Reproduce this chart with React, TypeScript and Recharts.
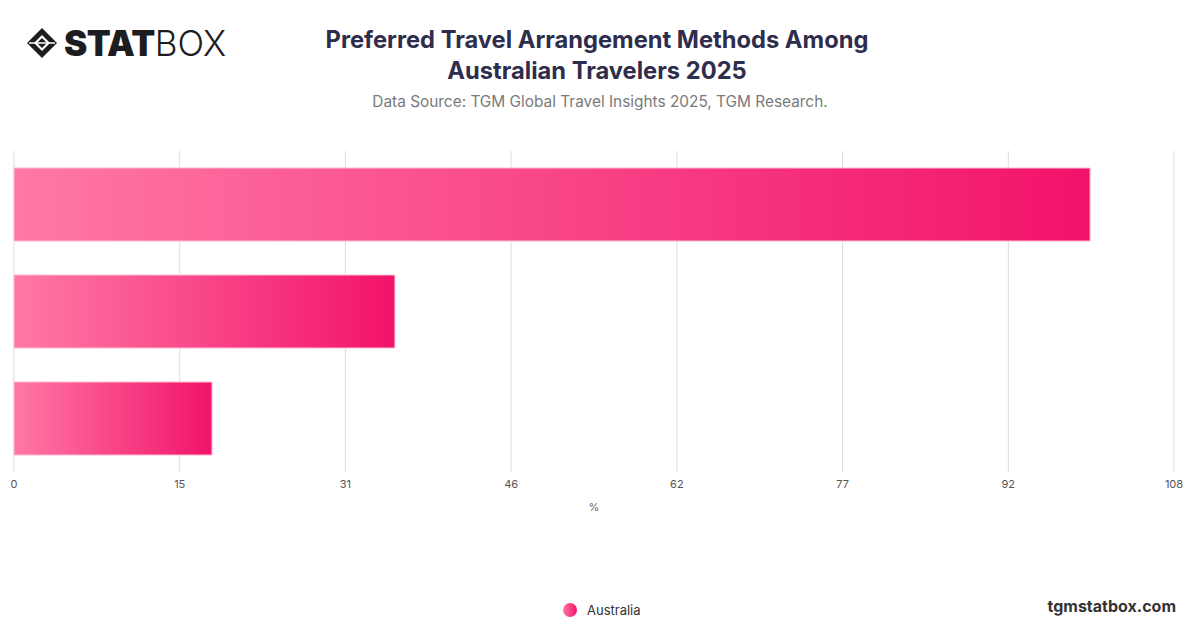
import { BarChart, Bar, XAxis, YAxis, CartesianGrid } from 'recharts';

const categories = ['Online travel platforms', 'Travel agents', 'Other methods'];
const australiaValues = [100, 35.4, 18.4];
const xTicks = [0, 15.4, 30.8, 46.2, 61.6, 77, 92.4, 107.8];

const data = categories.map((name, i) => ({ name, Australia: australiaValues[i] }));

const FONT = 'Inter, "Noto Sans", sans-serif';

function Logo() {
  return (
    <div style={{ position: 'absolute', left: 26, top: 22, display: 'flex', alignItems: 'center' }}>
      <svg width="32" height="32" viewBox="0 0 32 32">
        <path d="M16 1 L31 16 L16 31 L1 16 Z" fill="#1d1d1f" />
        <path d="M16 8 L24 16 L16 24 L8 16 Z" fill="#fff" />
        <path d="M16 11 L21 16 L16 21 L11 16 Z" fill="#1d1d1f" />
        <path d="M3 16 L29 16" stroke="#fff" strokeWidth="1.5" />
      </svg>
      <span style={{ fontFamily: FONT, fontWeight: 900, fontSize: 35, color: '#1d1d1f', marginLeft: 6, letterSpacing: -0.5 }}>
        STAT
      </span>
      <span style={{ fontFamily: FONT, fontWeight: 300, fontSize: 35, color: '#1d1d1f' }}>BOX</span>
    </div>
  );
}

export default function App() {
  return (
    <div style={{ position: 'absolute', left: 0, top: 0, width: 1200, height: 628, background: '#fff', overflow: 'hidden' }}>
      <Logo />
      <div
        style={{
          position: 'absolute',
          left: 297,
          width: 600,
          top: 24,
          textAlign: 'center',
          fontFamily: FONT,
          fontWeight: 700,
          fontSize: 23.7,
          lineHeight: '31px',
          color: '#2f2d4c',
        }}
      >
        Preferred Travel Arrangement Methods Among
        <br />
        Australian Travelers 2025
      </div>
      <div
        style={{
          position: 'absolute',
          left: 300,
          width: 600,
          top: 92,
          textAlign: 'center',
          fontFamily: FONT,
          fontSize: 15.4,
          color: '#7a7a7a',
        }}
      >
        Data Source: TGM Global Travel Insights 2025, TGM Research.
      </div>

      <div style={{ position: 'absolute', left: 0, top: 140 }}>
        <BarChart
          width={1200}
          height={400}
          data={data}
          layout="vertical"
          margin={{ top: 11, right: 26, bottom: 24, left: 14 }}
          barCategoryGap={17}
          style={{ fontFamily: FONT }}
        >
          <defs>
            <linearGradient id="barPink" x1="0" y1="0" x2="1" y2="0">
              <stop offset="0%" stopColor="#ff78a6" />
              <stop offset="100%" stopColor="#f2136a" />
            </linearGradient>
          </defs>
          <CartesianGrid horizontal={false} stroke="#dcdcdc" />
          <XAxis
            type="number"
            domain={[0, 107.8]}
            ticks={xTicks}
            tickFormatter={(v) => String(Math.round(v))}
            axisLine={false}
            tickLine={false}
            tick={{ fontSize: 11, fill: '#555' }}
            height={44}
            label={{ value: '%', position: 'insideBottom', offset: 5, fontSize: 11, fill: '#666' }}
          />
          <YAxis type="category" dataKey="name" width={0} tick={false} tickLine={false} axisLine={{ stroke: '#333' }} />
          <Bar
            dataKey="Australia"
            fill="url(#barPink)"
            stroke="#ffbcd2"
            strokeWidth={1}
            barSize={73}
            isAnimationActive={false}
          />
        </BarChart>
      </div>

      <div style={{ position: 'absolute', left: 562, top: 602, display: 'flex', alignItems: 'center', fontFamily: FONT, fontSize: 13, color: '#333' }}>
        <svg width="16" height="16" viewBox="0 0 16 16">
          <defs>
            <linearGradient id="dotPink" x1="0" y1="0" x2="1" y2="0">
              <stop offset="0%" stopColor="#ff78a6" />
              <stop offset="100%" stopColor="#f2136a" />
            </linearGradient>
          </defs>
          <circle cx="8" cy="8" r="7" fill="url(#dotPink)" />
        </svg>
        <span style={{ marginLeft: 9 }}>Australia</span>
      </div>

      <div
        style={{
          position: 'absolute',
          right: 24,
          top: 596,
          fontFamily: FONT,
          fontWeight: 700,
          fontSize: 16,
          color: '#333',
        }}
      >
        tgmstatbox.com
      </div>
    </div>
  );
}
